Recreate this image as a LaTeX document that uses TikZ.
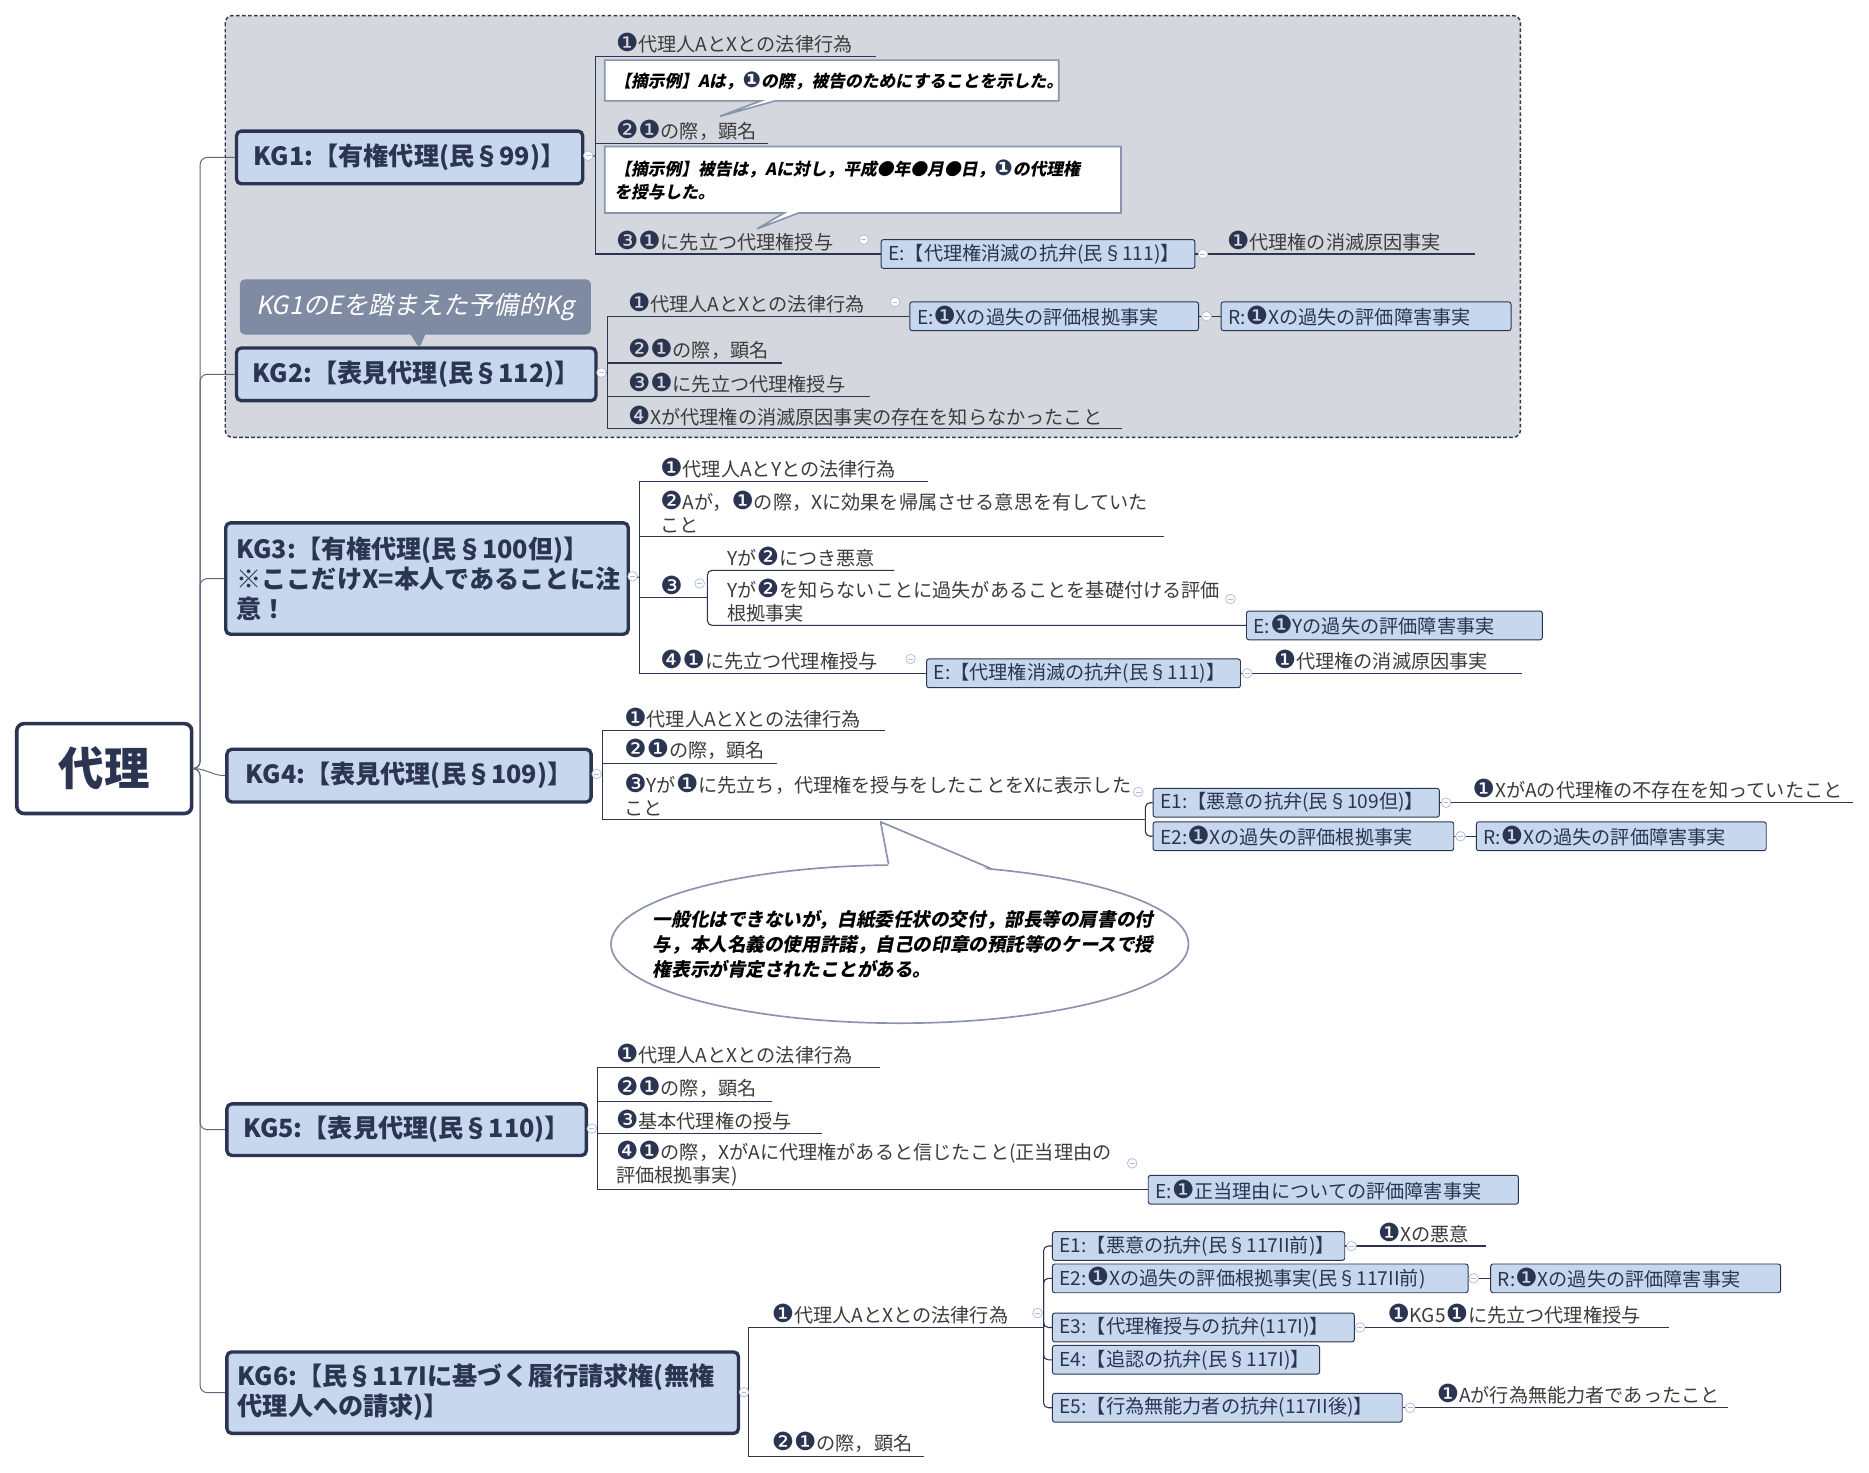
\documentclass[tikz,border=0pt]{standalone}
\usepackage{fontspec}
\setmainfont{Noto Sans CJK JP}
\newfontfamily\dvfont{DejaVu Sans}[Scale=1.3]
\newfontfamily\slfont{Noto Sans CJK JP}[FakeSlant=0.2]
\usetikzlibrary{positioning,shapes.callouts,shapes.geometric}

\definecolor{navy}{HTML}{2B3552}
\definecolor{boxblue}{HTML}{C6D7EE}
\definecolor{groupgray}{HTML}{D4D7DD}
\definecolor{notegray}{HTML}{7F8BA3}
\definecolor{bubbleline}{HTML}{8A94AD}
\definecolor{leafgray}{HTML}{3C3C3C}
\definecolor{foldblue}{HTML}{AEBBD8}

\newcommand{\nI}{{\dvfont\color{navy}❶}}
\newcommand{\nII}{{\dvfont\color{navy}❷}}
\newcommand{\nIII}{{\dvfont\color{navy}❸}}
\newcommand{\nIV}{{\dvfont\color{navy}❹}}

\begin{document}
\begin{tikzpicture}[x=1pt, y=-1pt]
\tikzset{RootStyle/.style = {draw=navy, line width=3pt, rounded corners=6pt, fill=white, text=navy, minimum width=146pt, minimum height=75pt, font=\fontsize{38}{40}\selectfont\bfseries}}
\tikzset{KGStyle/.style = {draw=navy, line width=2.8pt, rounded corners=4pt, fill=boxblue, text=navy, anchor=north west, align=left, inner xsep=9pt, minimum height=44pt, font=\fontsize{21}{25}\selectfont\bfseries}}
\tikzset{EStyle/.style = {draw=navy, line width=0.8pt, rounded corners=2pt, fill=boxblue, text=navy, anchor=west, align=left, inner xsep=6pt, inner ysep=0pt, minimum height=24pt, text width=#1, font=\fontsize{16}{18}\selectfont}}
\tikzset{LeafStyle/.style = {anchor=south west, inner xsep=0pt, inner ysep=2.5pt, align=left, text width=#1, text=leafgray, font=\fontsize{16}{19.5}\selectfont}}
\tikzset{ExampleStyle/.style = {rectangle callout, draw=bubbleline, line width=1.4pt, fill=white, text=black, anchor=north west, align=left, inner xsep=8pt, callout pointer width=12pt, font=\slfont\bfseries\fontsize{14}{19}\selectfont}}
\tikzset{NoteStyle/.style = {rectangle callout, fill=notegray, rounded corners=4pt, text=white, anchor=north west, minimum width=293pt, minimum height=46pt, callout pointer width=12pt, font=\slfont\fontsize{21}{24}\selectfont}}
\tikzset{BubbleStyle/.style = {ellipse, draw=bubbleline, line width=1.4pt, fill=white, inner sep=0pt, minimum width=482pt, minimum height=132pt}}
\tikzset{BubbleText/.style = {text width=412pt, align=left, text=black, font=\slfont\bfseries\fontsize{15.5}{21}\selectfont}}
\tikzset{FoldStyle/.style = {circle, draw=foldblue, fill=white, line width=0.6pt, inner sep=0pt, minimum size=8pt, path picture={\draw[foldblue, line width=0.6pt] ([xshift=-2pt]path picture bounding box.center) -- ([xshift=2pt]path picture bounding box.center);}}}
\tikzset{LineStyle/.style = {draw=navy, line width=0.9pt}}
\tikzset{BracketStyle/.style = {LineStyle, rounded corners=4pt}}
\tikzset{TrunkStyle/.style = {draw=navy!75, line width=0.8pt, rounded corners=6pt}}
\tikzset{GroupStyle/.style = {draw=navy, line width=1.2pt, dash pattern=on 3pt off 2pt, fill=groupgray, rounded corners=6pt}}

\fill[white] (0,0) rectangle (1560,1229);
\useasboundingbox (0,0) rectangle (1560,1229);

% KG1 and KG2 share a dashed frame
\draw[GroupStyle] (188,13) rectangle (1269,365);

% root and claims
\node[RootStyle](R) at (87,641.5){代理};
\node[KGStyle, minimum width=289pt](KG1) at (196,108){KG1:【有権代理(民§99)】};
\node[KGStyle, minimum width=300pt](KG2) at (196,289){KG2:【表見代理(民§112)】};
\node[KGStyle, text width=318pt, minimum height=93pt](KG3) at (187,435){KG3:【有権代理(民§100但)】\\※ここだけX=本人であることに注\\意！};
\node[KGStyle, minimum width=304pt](KG4) at (188,624){KG4:【表見代理(民§109)】};
\node[KGStyle, minimum width=300pt, minimum height=43pt](KG5) at (188,920){KG5:【表見代理(民§110)】};
\node[KGStyle, text width=409pt, minimum height=68pt](KG6) at (188,1127){KG6:【民§117Iに基づく履行請求権(無権\\代理人への請求)】};

\coordinate (T) at (167,641.5);
\foreach \k in {KG1,KG2,KG3,KG5,KG6}
	\draw[TrunkStyle] (R.east) -- (T) |- (\k.west);
\draw[TrunkStyle] (R.east) to[out=0,in=180] (KG4.west);

% KG1
\coordinate (B1) at (497,130);
\node[LeafStyle=217pt](K1a) at (514,47){\nI 代理人AとXとの法律行為};
\node[LeafStyle=127pt](K1b) at (514,120){\nII\nI の際，顕名};
\node[LeafStyle=200pt](K1c) at (514,212){\nIII\nI に先立つ代理権授与};
\node[EStyle=250pt](E1) at (735,212){E:【代理権消滅の抗弁(民§111)】};
\node[LeafStyle=207pt](K1d) at (1024,212){\nI 代理権の消滅原因事実};
\draw[LineStyle] (KG1.east) -- (B1);
\foreach \n in {K1a,K1b}
	\draw[LineStyle] (B1) |- (\n.south east);
\draw[LineStyle] (B1) |- (E1.west);
\draw[LineStyle] (E1.east) -- (K1d.south east);
\node[ExampleStyle, text width=363pt, minimum height=34pt, callout absolute pointer={(601,97)}](X1) at (504,49.5){【摘示例】Aは，\nI の際，被告のためにすることを示した。};
\node[ExampleStyle, text width=415pt, minimum height=55.5pt, callout absolute pointer={(632,191)}](X2) at (504,121.6){【摘示例】被告は，Aに対し，平成●年●月●日，\nI の代理権\\を授与した。};

% KG2
\coordinate (B2) at (507,311);
\node[NoteStyle, callout absolute pointer={(350,291)}](N2) at (200,233){KG1のEを踏まえた予備的Kg};
\node[LeafStyle=216pt](K2a) at (524,264){\nI 代理人AとXとの法律行為};
\node[EStyle=229pt](E2a) at (759,264){E:\nI Xの過失の評価根拠事実};
\node[EStyle=230pt, right=18pt of E2a](R2a){R:\nI Xの過失の評価障害事実};
\node[LeafStyle=128pt](K2b) at (524,303){\nII\nI の際，顕名};
\node[LeafStyle=202pt](K2c) at (524,331){\nIII\nI に先立つ代理権授与};
\node[LeafStyle=412pt](K2d) at (524,358){\nIV Xが代理権の消滅原因事実の存在を知らなかったこと};
\draw[LineStyle] (KG2.east) -- (B2);
\draw[LineStyle] (B2) |- (E2a.west);
\foreach \n in {K2b,K2c,K2d}
	\draw[LineStyle] (B2) |- (\n.south east);
\draw[LineStyle] (E2a.east) -- (R2a.west);

% KG3
\coordinate (B3) at (534,481.5);
\node[LeafStyle=223pt](K3a) at (551,402){\nI 代理人AとYとの法律行為};
\node[LeafStyle=420pt](K3b) at (551,448){\nII Aが，\nI の際，Xに効果を帰属させる意思を有していた\\こと};
\node[LeafStyle=39pt](K3c) at (551,499){\nIII};
\node[LeafStyle=139pt](K3c1) at (607,476){Yが\nII につき悪意};
\node[LeafStyle=418pt](K3c2) at (607,522){Yが\nII を知らないことに過失があることを基礎付ける評価\\根拠事実};
\node[EStyle=235pt](E3c) at (1040,522){E:\nI Yの過失の評価障害事実};
\node[LeafStyle=200pt](K3d) at (551,562){\nIV\nI に先立つ代理権授与};
\node[EStyle=250pt](E3d) at (773,562){E:【代理権消滅の抗弁(民§111)】};
\node[LeafStyle=207pt](K3e) at (1063,562){\nI 代理権の消滅原因事実};
\draw[LineStyle] (KG3.east) -- (B3);
\foreach \n in {K3a,K3b,K3c}
	\draw[LineStyle] (B3) |- (\n.south east);
\draw[BracketStyle] (K3c.south east) |- (K3c1.south east);
\draw[BracketStyle] (K3c.south east) |- (E3c.west);
\draw[LineStyle] (B3) |- (E3d.west);
\draw[LineStyle] (E3d.east) -- (K3e.south east);

% KG4
\coordinate (B4) at (503,646);
\coordinate (BE4) at (956,684);
\node[LeafStyle=217pt](K4a) at (521,610){\nI 代理人AとXとの法律行為};
\node[LeafStyle=127pt](K4b) at (521,637){\nII\nI の際，顕名};
\node[LeafStyle=424pt](K4c) at (521,684){\nIII Yが\nI に先立ち，代理権を授与をしたことをXに表示した\\こと};
\node[EStyle=227pt](E4a) at (962,670){E1:【悪意の抗弁(民§109但)】};
\node[LeafStyle=317pt](K4d) at (1229,670){\nI XがAの代理権の不存在を知っていたこと};
\node[EStyle=239pt](E4b) at (962,698){E2:\nI Xの過失の評価根拠事実};
\node[EStyle=230pt, right=18pt of E4b](R4b){R:\nI Xの過失の評価障害事実};
\draw[LineStyle] (KG4.east) -- (B4);
\foreach \n in {K4a,K4b}
	\draw[LineStyle] (B4) |- (\n.south east);
\draw[LineStyle] (B4) |- (K4c.south east) -- (BE4);
\foreach \e in {E4a,E4b}
	\draw[BracketStyle] (BE4) |- (\e.west);
\draw[LineStyle] (E4a.east) -- (K4d.south east);
\draw[LineStyle] (E4b.east) -- (R4b.west);
\node[BubbleStyle](C4) at (751,788){};
\coordinate (C4tip) at (735,686);
\fill[white] ([yshift=-2pt]C4.98) -- (C4tip) -- ([yshift=-2pt]C4.40) -- cycle;
\draw[bubbleline, line width=1.4pt, line join=round] (C4.98) -- (C4tip) -- (C4.40);
\node[BubbleText](C4t) at (C4.center){一般化はできないが，白紙委任状の交付，部長等の肩書の付\\与，本人名義の使用許諾，自己の印章の預託等のケースで授\\権表示が肯定されたことがある。};

% KG5
\coordinate (B5) at (499,941.5);
\node[LeafStyle=220pt](K5a) at (514,891){\nI 代理人AとXとの法律行為};
\node[LeafStyle=130pt](K5b) at (514,919){\nII\nI の際，顕名};
\node[LeafStyle=172pt](K5c) at (514,946){\nIII 基本代理権の授与};
\node[LeafStyle=436pt](K5d) at (514,993){\nIV\nI の際，XがAに代理権があると信じたこと(正当理由の\\評価根拠事実)};
\node[EStyle=297pt](E5) at (958,993){E:\nI 正当理由についての評価障害事実};
\draw[LineStyle] (KG5.east) -- (B5);
\foreach \n in {K5a,K5b,K5c}
	\draw[LineStyle] (B5) |- (\n.south east);
\draw[LineStyle] (B5) |- (E5.west);

% KG6
\coordinate (B6) at (625,1161);
\coordinate (BE6) at (871,1108);
\node[LeafStyle=214pt](K6a) at (644,1108){\nI 代理人AとXとの法律行為};
\node[LeafStyle=127pt](K6b) at (644,1215.5){\nII\nI の際，顕名};
\node[EStyle=232pt](E6a) at (878,1040){E1:【悪意の抗弁(民§117II前)】};
\node[LeafStyle=90pt](K6c) at (1150,1040){\nI Xの悪意};
\node[EStyle=335pt](E6b) at (878,1067){E2:\nI Xの過失の評価根拠事実(民§117II前)};
\node[EStyle=230pt, right=18pt of E6b](R6b){R:\nI Xの過失の評価障害事実};
\node[EStyle=240pt](E6c) at (878,1108){E3:【代理権授与の抗弁(117I)】};
\node[LeafStyle=235pt](K6d) at (1158,1108){\nI KG5\nI に先立つ代理権授与};
\node[EStyle=211pt](E6d) at (878,1135){E4:【追認の抗弁(民§117I)】};
\node[EStyle=280pt](E6e) at (878,1175){E5:【行為無能力者の抗弁(117II後)】};
\node[LeafStyle=243pt](K6e) at (1199,1175){\nI Aが行為無能力者であったこと};
\draw[LineStyle] (KG6.east) -- (B6);
\draw[LineStyle] (B6) |- (K6b.south east);
\draw[LineStyle] (B6) |- (K6a.south east) -- (BE6);
\foreach \e in {E6a,E6b,E6c,E6d,E6e}
	\draw[BracketStyle] (BE6) |- (\e.west);
\draw[LineStyle] (E6a.east) -- (K6c.south east);
\draw[LineStyle] (E6b.east) -- (R6b.west);
\draw[LineStyle] (E6c.east) -- (K6d.south east);
\draw[LineStyle] (E6e.east) -- (K6e.south east);

% fold markers
\foreach \p [count=\i] in {(491,130),(721,200),(1004,212),(502,311),(747,252),(1007,264),(528,481),(584,487),(1027,500),(760,550),(1041,562),(498,646),(950,661),(1207,670),(1219,698),(494,942),(945,971),(621,1162),(866,1096),(1128,1040),(1230,1067),(1135,1108),(1177,1175)}
	\node[FoldStyle](F\i) at \p {};
\end{tikzpicture}
\end{document}
